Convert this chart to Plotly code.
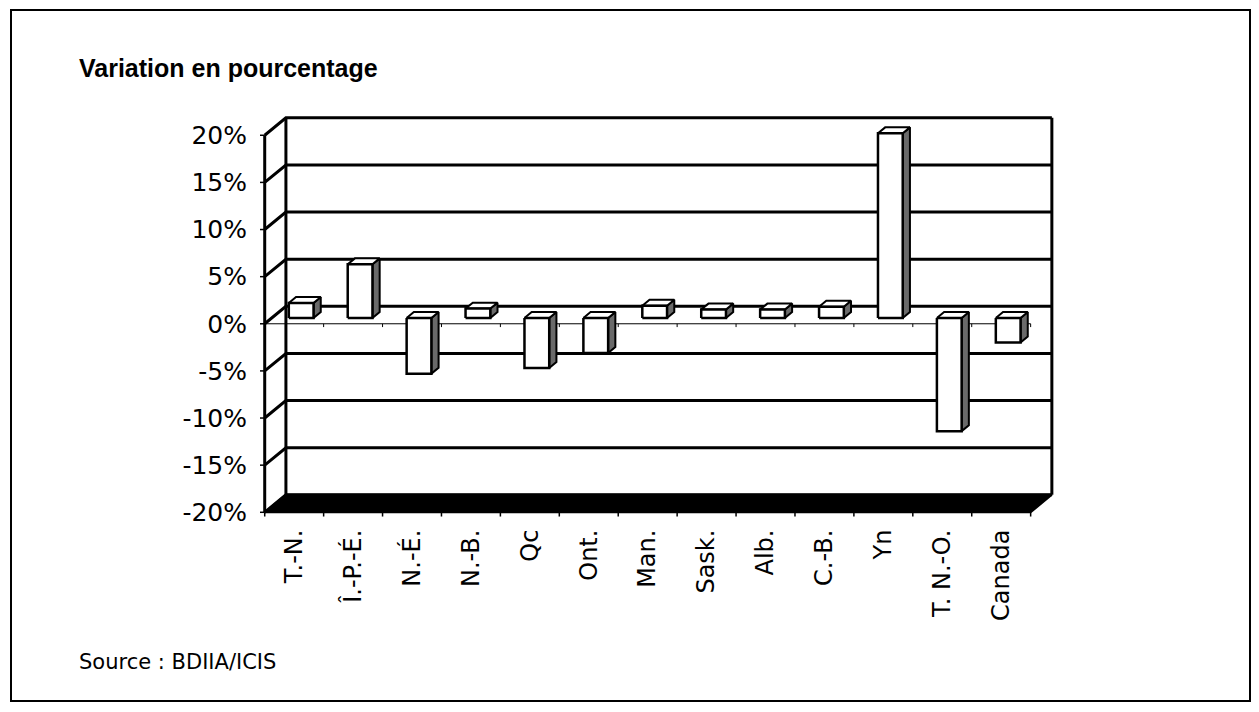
import plotly.graph_objects as go

# ---------------- data ----------------
categories = ["T.-N.", "Î.-P.-É.", "N.-É.", "N.-B.", "Qc", "Ont.", "Man.",
              "Sask.", "Alb.", "C.-B.", "Yn", "T. N.-O.", "Canada"]
values = [1.6, 5.7, -5.9, 1.0, -5.3, -3.7, 1.3, 0.9, 0.9, 1.2, 19.6, -12.0, -2.6]
y_ticks = [-20, -15, -10, -5, 0, 5, 10, 15, 20]
y_ticktext = ["-20%", "-15%", "-10%", "-5%", "0%", "5%", "10%", "15%", "20%"]
title_text = "Variation en pourcentage"
source_text = "Source : BDIIA/ICIS"

# ---------------- geometry (pseudo-3D) ----------------
OFF = 8                      # page body margin
W, H = 1259 - 2 * OFF, 712 - 2 * OFF
ML, MR, MT, MB = 260 - OFF, 193 - OFF, 107 - OFF, 195 - OFF
XR = [-0.08, 13.6]
YR = [-20.5, 23.0]
DX, DY = 0.36, 1.85          # depth vector of the back wall (data units)
F0, F1 = 0.33, 0.67          # bar front/back depth fractions
HW = 0.21                    # bar half width
n = len(categories)
ymin, ymax = y_ticks[0], y_ticks[-1]

fig = go.Figure()

def add_lines(xs, ys, width=3, color="black"):
    fig.add_trace(go.Scatter(x=xs, y=ys, mode="lines", hoverinfo="skip",
                             line=dict(color=color, width=width), showlegend=False))

# floor (black)
fig.add_trace(go.Scatter(
    x=[0, n, n + DX, DX, 0], y=[ymin, ymin, ymin + DY, ymin + DY, ymin],
    fill="toself", fillcolor="black", mode="lines",
    line=dict(color="black", width=2), hoverinfo="skip", showlegend=False))

# back wall gridlines + frame
gx, gy = [], []
for v in y_ticks:
    gx += [0, DX, n + DX, None]
    gy += [v, v + DY, v + DY, None]
gx += [DX, DX, None, n + DX, n + DX, None, 0, 0, None]
gy += [ymin + DY, ymax + DY, None, ymin + DY, ymax + DY, None, ymin, ymax, None]
add_lines(gx, gy, width=3)

# y ticks (left of front axis) and category ticks at the bottom
tx, ty = [], []
for v in y_ticks:
    tx += [-0.08, 0, None]
    ty += [v, v, None]
for i in range(n + 1):
    tx += [i, i, None]
    ty += [ymin, ymin - 0.45, None]
add_lines(tx, ty, width=1.5)

# thin category line at zero level with ticks
zx, zy = [0, n, None], [0, 0, None]
for i in range(1, n + 1):
    zx += [i, i, None]
    zy += [0, -0.35, None]
add_lines(zx, zy, width=1)

# bars
for i, v in enumerate(values):
    c = i + 0.5
    xl0, xr0 = c - HW + F0 * DX, c + HW + F0 * DX
    xl1, xr1 = c - HW + F1 * DX, c + HW + F1 * DX
    b0, b1 = F0 * DY, F1 * DY
    top = max(v, 0)
    fig.add_trace(go.Scatter(
        x=[xr0, xr0, xr1, xr1, xr0], y=[b0, v + b0, v + b1, b1, b0],
        fill="toself", fillcolor="#6a6a6a", mode="lines",
        line=dict(color="black", width=2), hoverinfo="skip", showlegend=False))
    fig.add_trace(go.Scatter(
        x=[xl0, xr0, xr1, xl1, xl0], y=[top + b0, top + b0, top + b1, top + b1, top + b0],
        fill="toself", fillcolor="white", mode="lines",
        line=dict(color="black", width=2), hoverinfo="skip", showlegend=False))
    fig.add_trace(go.Scatter(
        x=[xl0, xr0, xr0, xl0, xl0], y=[b0, b0, v + b0, v + b0, b0],
        fill="toself", fillcolor="white", mode="lines",
        line=dict(color="black", width=2.5), hoverinfo="skip", showlegend=False))

def px2paper_x(px):
    return (px - OFF - ML) / (W - ML - MR)

def px2paper_y(py):
    return (H - MB - (py - OFF)) / (H - MT - MB)

fig.update_layout(
    width=W, height=H,
    margin=dict(l=ML, r=MR, t=MT, b=MB),
    paper_bgcolor="white", plot_bgcolor="white",
    xaxis=dict(range=XR, showgrid=False, zeroline=False, showline=False,
               tickmode="array", tickvals=[i + 0.5 for i in range(n)], ticktext=categories,
               tickangle=-90, ticks="outside", ticklen=2, tickcolor="rgba(0,0,0,0)",
               tickfont=dict(family="DejaVu Sans", size=24, color="black")),
    yaxis=dict(range=YR, showgrid=False, zeroline=False, showline=False,
               tickmode="array", tickvals=y_ticks, ticktext=y_ticktext,
               ticks="outside", ticklen=7, tickcolor="rgba(0,0,0,0)",
               tickfont=dict(family="DejaVu Sans", size=25, color="black")),
    annotations=[
        dict(text="<b>" + title_text + "</b>", xref="paper", yref="paper",
             x=px2paper_x(77), y=px2paper_y(68), xanchor="left", yanchor="middle",
             showarrow=False, font=dict(family="Liberation Sans", size=25, color="black")),
        dict(text=source_text, xref="paper", yref="paper",
             x=px2paper_x(77), y=px2paper_y(662), xanchor="left", yanchor="middle",
             showarrow=False, font=dict(family="DejaVu Sans", size=21, color="black")),
    ],
    shapes=[dict(type="rect", xref="paper", yref="paper",
                 x0=px2paper_x(11), x1=px2paper_x(1250), y0=px2paper_y(701), y1=px2paper_y(10),
                 line=dict(color="black", width=2), fillcolor="rgba(0,0,0,0)", layer="below")],
)

fig.write_html("out.html")
